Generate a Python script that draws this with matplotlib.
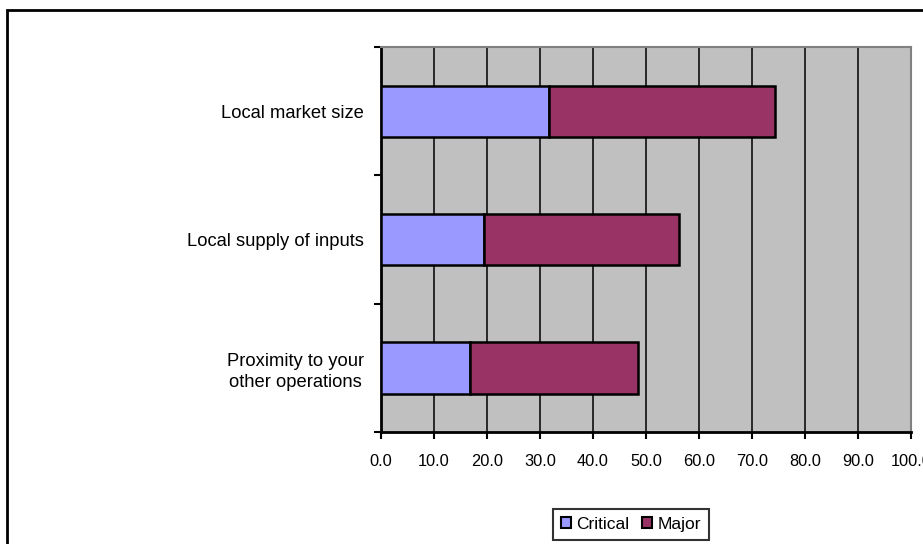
import matplotlib
matplotlib.use("Agg")
import matplotlib.pyplot as plt
from matplotlib.patches import Rectangle

categories = ["Proximity to your\nother operations", "Local supply of inputs", "Local market size"]
critical = [16.8, 19.4, 31.7]
major = [31.6, 36.8, 42.7]
x_ticks = [0, 10, 20, 30, 40, 50, 60, 70, 80, 90, 100]

plt.rcParams['font.family'] = ['Liberation Sans', 'DejaVu Sans']

fig = plt.figure(figsize=(9.23, 5.44), dpi=100)
ax = fig.add_axes([381/923, 1 - 432/544, (911 - 381)/923, (432 - 47)/544])
ax.set_facecolor('#C0C0C0')

ypos = list(range(len(categories)))
ax.barh(ypos, critical, height=0.4, color='#9999FF', edgecolor='black', linewidth=1.8,
        label='Critical', zorder=3)
ax.barh(ypos, major, left=critical, height=0.4, color='#993366', edgecolor='black',
        linewidth=1.8, label='Major', zorder=3)

ax.set_xlim(0, 100)
ax.set_ylim(-0.5, len(categories) - 0.5)
ax.set_xticks(x_ticks)
ax.set_xticklabels([f"{v:.1f}" for v in x_ticks], fontsize=11.8)
ax.tick_params(axis='x', direction='out', length=5, width=1.5, pad=11)
ax.xaxis.grid(True, color='black', linewidth=1.1, zorder=1)
ax.set_axisbelow(True)

ax.set_yticks([i - 0.5 for i in range(len(categories) + 1)])
ax.set_yticklabels([])
ax.tick_params(axis='y', which='major', direction='out', length=5, width=1.5)
ax.set_yticks(ypos, minor=True)
ax.set_yticklabels(categories, minor=True, fontsize=13.2, multialignment='center',
                   linespacing=1.35)
ax.tick_params(axis='y', which='minor', length=0, pad=12)

for s in ['left', 'bottom']:
    ax.spines[s].set_color('black')
    ax.spines[s].set_linewidth(2)
for s in ['top', 'right']:
    ax.spines[s].set_color('#808080')
    ax.spines[s].set_linewidth(1.5)

leg = fig.legend(loc='center', bbox_to_anchor=(631/923, 1 - 524.5/544),
                 bbox_transform=fig.transFigure, ncol=2, fontsize=12.5,
                 frameon=True, fancybox=False, shadow=False,
                 handlelength=0.6, handleheight=0.6, handletextpad=0.3,
                 columnspacing=0.7, borderpad=0.45, borderaxespad=0)
leg.get_frame().set_edgecolor('black')
leg.get_frame().set_linewidth(1.5)
for h in leg.legend_handles:
    h.set_linewidth(1.5)

frame = Rectangle((7.5/923, -0.1), 1.2, (1 - 9.5/544) + 0.1, transform=fig.transFigure,
                  fill=False, edgecolor='black', linewidth=2, clip_on=False)
fig.patches.append(frame)

fig.savefig('out.png', dpi=100)
